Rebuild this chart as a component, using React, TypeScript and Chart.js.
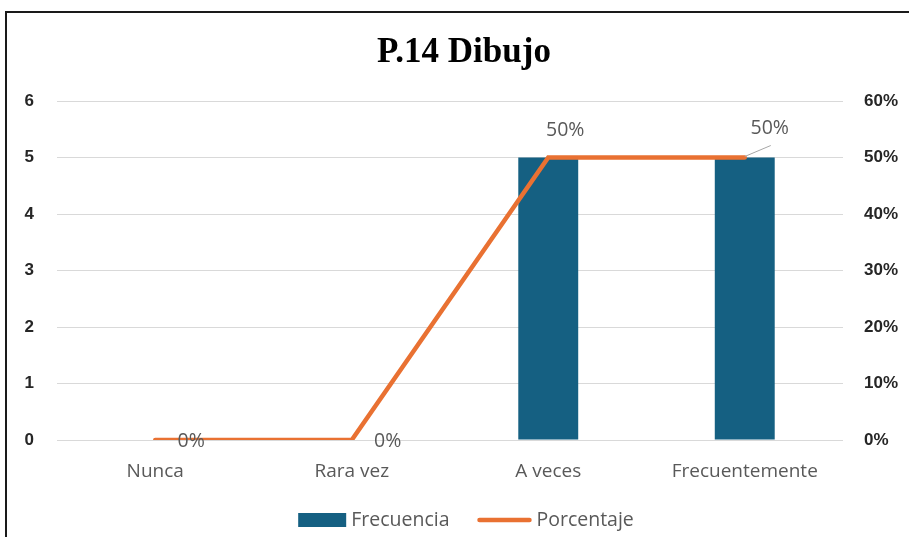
import React, { useEffect, useRef } from "react";
import { Chart, registerables } from "chart.js";
Chart.register(...registerables);

const TITLE = "P.14 Dibujo";
const categories = ["Nunca", "Rara vez", "A veces", "Frecuentemente"];
const frecuencia = [0, 0, 5, 5];
const porcentaje = [0, 0, 50, 50];
const seriesNames = ["Frecuencia", "Porcentaje"];
const leftMax = 6;
const rightMax = 60;

const BAR_COLOR = "#156082";
const LINE_COLOR = "#E97132";
const TEXT_GRAY = "#595959";
const AXIS_TEXT = "#262626";
const LABEL_FONT = "Open Sans";

const overlayPlugin = {
  id: "overlay",
  afterDatasetsDraw(chart: any) {
    const ctx = chart.ctx;
    const meta = chart.getDatasetMeta(1);
    ctx.save();
    ctx.font = `19.5px "${LABEL_FONT}"`;
    ctx.fillStyle = TEXT_GRAY;
    ctx.textBaseline = "middle";
    ctx.textAlign = "center";
    const n = meta.data.length;
    meta.data.forEach((pt: any, i: number) => {
      const v = porcentaje[i];
      const txt = v + "%";
      if (v === 0) {
        ctx.fillText(txt, pt.x + 36, pt.y + 1);
      } else if (i === n - 1) {
        ctx.strokeStyle = "#a6a6a6";
        ctx.lineWidth = 1;
        ctx.beginPath();
        ctx.moveTo(pt.x, pt.y - 1);
        ctx.lineTo(pt.x + 26, pt.y - 12);
        ctx.stroke();
        ctx.fillText(txt, pt.x + 25, pt.y - 29);
      } else {
        ctx.fillText(txt, pt.x + 17, pt.y - 27);
      }
    });
    ctx.restore();
  },
  afterDraw(chart: any) {
    const ctx = chart.ctx;
    ctx.save();
    // title
    ctx.font = `bold 35px "Liberation Serif"`;
    ctx.fillStyle = "#000";
    ctx.textAlign = "center";
    ctx.textBaseline = "alphabetic";
    ctx.fillText(TITLE, 464, 62);
    // legend
    ctx.font = `19.5px "${LABEL_FONT}"`;
    ctx.textAlign = "left";
    ctx.textBaseline = "middle";
    const boxW = 48;
    const gapTxt = 5;
    const gapItem = 28;
    const w0 = ctx.measureText(seriesNames[0]).width;
    const w1 = ctx.measureText(seriesNames[1]).width;
    const lineW = 54;
    const total = boxW + gapTxt + w0 + gapItem + lineW + gapTxt + w1;
    let x = 466 - total / 2;
    const y = 520;
    ctx.fillStyle = BAR_COLOR;
    ctx.fillRect(x, y - 7, boxW, 14);
    x += boxW + gapTxt;
    ctx.fillStyle = TEXT_GRAY;
    ctx.fillText(seriesNames[0], x, y);
    x += w0 + gapItem;
    ctx.strokeStyle = LINE_COLOR;
    ctx.lineWidth = 4.5;
    ctx.lineCap = "round";
    ctx.beginPath();
    ctx.moveTo(x + 2, y);
    ctx.lineTo(x + lineW - 2, y);
    ctx.stroke();
    x += lineW + gapTxt;
    ctx.fillText(seriesNames[1], x, y);
    ctx.restore();
  },
};

export default function App() {
  const ref = useRef<HTMLCanvasElement>(null);
  useEffect(() => {
    if (!ref.current) return;
    const chart = new Chart(ref.current, {
      type: "bar",
      data: {
        labels: categories,
        datasets: [
          {
            type: "bar",
            label: seriesNames[0],
            data: frecuencia,
            backgroundColor: BAR_COLOR,
            yAxisID: "y",
            barPercentage: 0.305,
            categoryPercentage: 1,
            order: 2,
          },
          {
            type: "line",
            label: seriesNames[1],
            data: porcentaje,
            borderColor: LINE_COLOR,
            backgroundColor: LINE_COLOR,
            borderWidth: 4.5,
            pointRadius: 0,
            borderCapStyle: "round",
            tension: 0,
            yAxisID: "y1",
            order: 1,
          },
        ],
      } as any,
      options: {
        animation: false,
        responsive: false,
        layout: { padding: { top: 101, left: 7, right: 6, bottom: 0 } },
        plugins: {
          legend: { display: false },
          title: { display: false },
          tooltip: { enabled: false },
        },
        scales: {
          x: {
            grid: { display: false },
            border: { display: false },
            ticks: {
              color: TEXT_GRAY,
              font: { family: LABEL_FONT, size: 19 },
              padding: 12,
            },
            afterFit(s: any) {
              s.height = 97;
            },
          },
          y: {
            position: "left",
            min: 0,
            max: leftMax,
            border: { display: false },
            grid: { color: "#d9d9d9", lineWidth: 1, drawTicks: false },
            ticks: {
              stepSize: 1,
              color: AXIS_TEXT,
              font: { family: "Liberation Sans", size: 17, weight: "bold" },
              padding: 23,
            },
            afterFit(s: any) {
              s.width = 50;
            },
          },
          y1: {
            position: "right",
            min: 0,
            max: rightMax,
            border: { display: false },
            grid: { display: false, drawTicks: false },
            ticks: {
              stepSize: 10,
              color: AXIS_TEXT,
              font: { family: "Liberation Sans", size: 17, weight: "bold" },
              padding: 21,
              callback: (v: any) => v + "%",
            },
            afterFit(s: any) {
              s.width = 60;
            },
          },
        },
      } as any,
      plugins: [overlayPlugin],
    });
    return () => chart.destroy();
  }, []);
  return (
    <div style={{ position: "fixed", left: 0, top: 0, width: 909, height: 537, background: "#fff" }}>
      <div
        style={{
          position: "absolute",
          left: 5,
          top: 11,
          width: 910,
          height: 530,
          borderTop: "2px solid #1a1a1a",
          borderLeft: "2px solid #1a1a1a",
        }}
      />
      <canvas ref={ref} width={909} height={537} style={{ position: "absolute", left: 0, top: 0 }} />
    </div>
  );
}
